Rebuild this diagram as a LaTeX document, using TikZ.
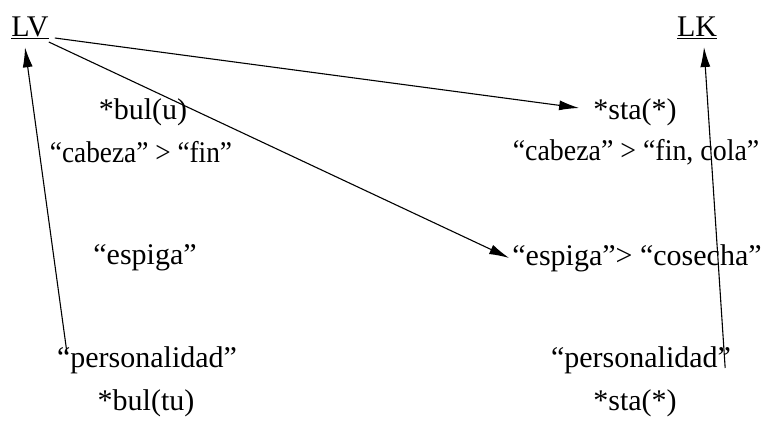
\documentclass[tikz,border=0pt]{standalone}
\usepackage{fontspec}
\setmainfont{Liberation Serif}
\usetikzlibrary{arrows.meta}
\begin{document}
\begin{tikzpicture}[x=1pt,y=-1pt,
  lbl/.style={inner sep=0pt,font=\fontsize{30}{36}\selectfont},
  arr/.style={line width=1.1pt,-{Latex[length=20pt,width=10pt]}}]
\useasboundingbox (0,0) rectangle (765,420);
\node[lbl] (lv) at (30,28) {\underline{LV}};
\node[lbl] (lk) at (697,28) {\underline{LK}};
\node[lbl] (bulu) at (143,112) {*bul(u)};
\node[lbl] (cab1) at (141,152) {\scalebox{0.91}[1]{“cabeza” > “fin”}};
\node[lbl] (esp1) at (145,258) {“espiga”};
\node[lbl] (pers1) at (147,360) {“personalidad”};
\node[lbl] (bultu) at (146,403) {*bul(tu)};
\node[lbl] (sta1) at (635,112) {*sta(*)};
\node[lbl] (cab2) at (636,152) {\scalebox{0.93}[1]{“cabeza” > “fin, cola”}};
\node[lbl] (esp2) at (637,258) {“espiga”> “cosecha”};
\node[lbl] (pers2) at (641,360) {“personalidad”};
\node[lbl] (sta2) at (635,403) {*sta(*)};
\draw[arr] ([shift={(6,10)}]lv.east) -- ([shift={(-14,-4)}]sta1.west);
\draw[arr] ([shift={(0,14)}]lv.east) -- ([shift={(-3,0)}]esp2.west);
\draw[arr] ([shift={(10,-8)}]pers1.west) -- ([shift={(-5,8)}]lv.south);
\draw[arr] ([shift={(-6,8)}]pers2.east) -- ([shift={(7,8)}]lk.south);
\end{tikzpicture}
\end{document}
